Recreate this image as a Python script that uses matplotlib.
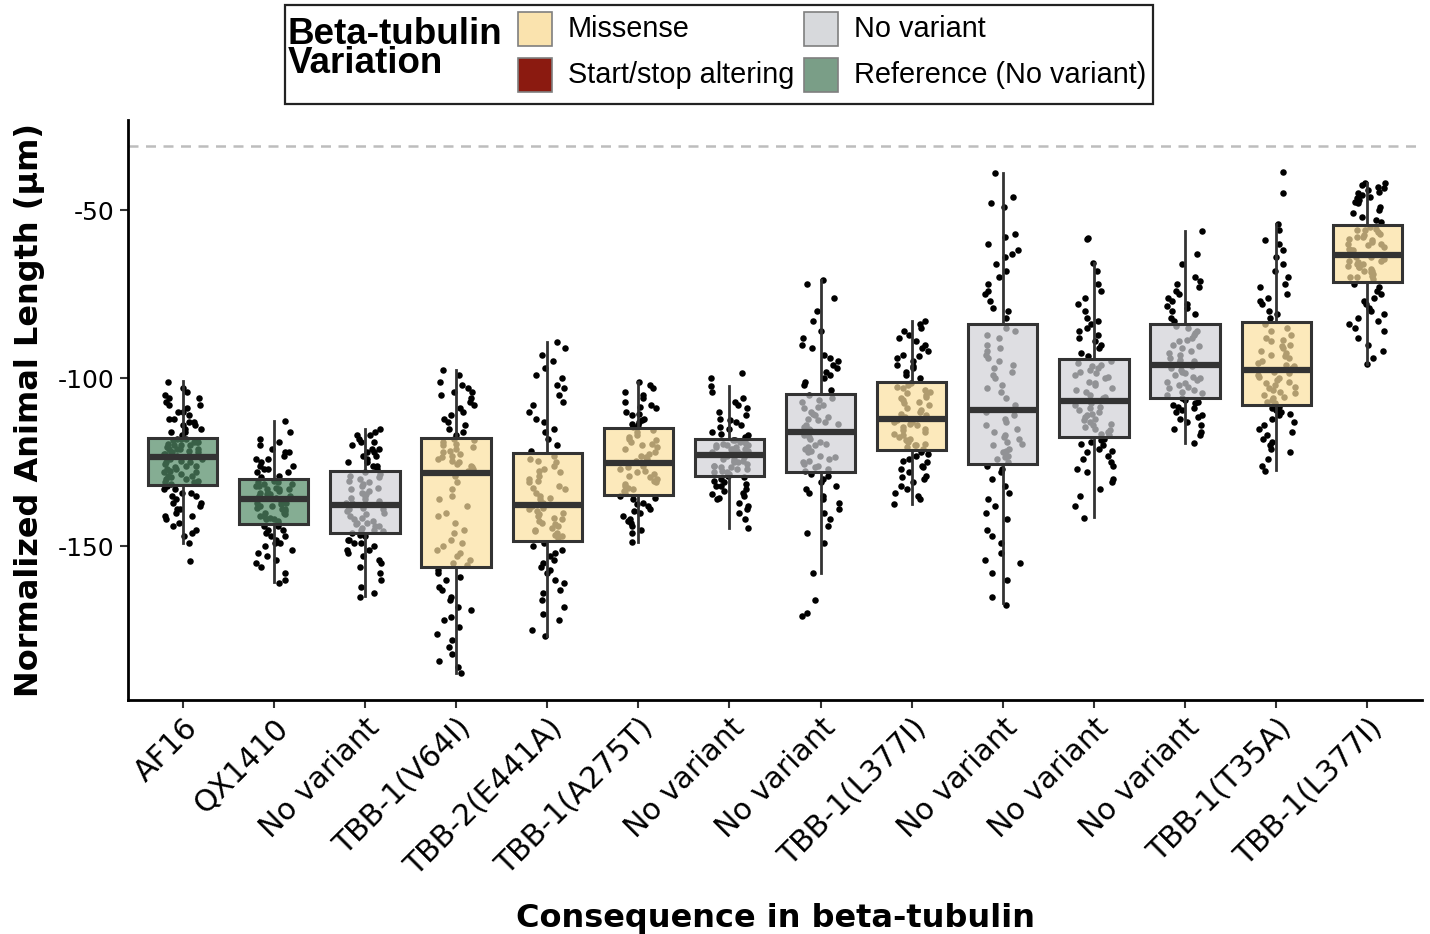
import numpy as np
import matplotlib
matplotlib.use('Agg')  # Use non-GUI backend for matplotlib
import matplotlib.pyplot as plt
from matplotlib.patches import Rectangle

plt.rcParams['axes.unicode_minus'] = False

# Strains ordered by median length, with their beta-tubulin consequence
tick_labels = ['AF16', 'QX1410', 'No variant', 'TBB-1(V64I)', 'TBB-2(E441A)',
               'TBB-1(A275T)', 'No variant', 'No variant', 'TBB-1(L377I)',
               'No variant', 'No variant', 'No variant', 'TBB-1(T35A)', 'TBB-1(L377I)']
consequence = ['Reference', 'Reference', 'No variant', 'Missense', 'Missense',
               'Missense', 'No variant', 'No variant', 'Missense',
               'No variant', 'No variant', 'No variant', 'Missense', 'Missense']

# Box summaries (lower whisker, Q1, median, Q3, upper whisker)
whisk_lo = [-149.0, -160.5, -164.8, -187.8, -176.7, -148.7, -144.5, -157.9, -137.4, -166.9, -141.4, -119.4, -127.3, -95.8]
q1 = [-131.8, -143.5, -145.9, -156.1, -148.3, -134.6, -129.2, -127.9, -121.2, -125.4, -117.5, -105.8, -108.0, -71.3]
median = [-123.4, -136.0, -137.7, -128.1, -137.6, -125.2, -122.7, -116.1, -112.1, -109.4, -106.9, -96.1, -97.5, -63.3]
q3 = [-117.8, -130.1, -127.6, -117.9, -122.3, -114.8, -118.0, -104.7, -101.0, -83.8, -94.4, -83.8, -83.4, -54.3]
whisk_hi = [-100.8, -112.6, -115.0, -97.5, -89.1, -101.0, -102.2, -70.9, -83.1, -39.0, -65.7, -56.2, -54.2, -41.8]

# Individual animal lengths per strain
af16 = [-101, -103, -104, -105, -106, -106, -107, -108, -108, -109, -110, -110, -111, -112, -112, -113,
        -113, -114, -114, -115, -115, -116, -116, -117,
        -118, -118, -118.5, -119, -119, -119.5, -120, -120, -120.5, -121, -121, -121, -121.5, -122, -122,
        -122, -122.5, -123, -123, -118, -119, -120, -121, -122.5,
        -124, -124, -124.5, -125, -125, -125.5, -126, -126, -126.5, -127, -127, -127.5, -128, -128, -128.5,
        -129, -129, -129.5, -130, -130, -130.5, -131, -131, -131.5,
        -132, -133, -133, -134, -134, -135, -135, -136, -137, -137, -138, -139, -139, -140, -141, -141,
        -142, -143, -144, -145, -146, -147, -149, -154.4]
qx1410 = [-112.6, -116, -118, -119, -120, -121, -122, -122, -123, -124, -124, -125, -126, -126, -127, -127,
          -128, -128, -129, -129.5,
          -130.5, -131, -131, -131.5, -132, -132, -132.5, -133, -133, -133.5, -134, -134, -134.5, -134.5,
          -135, -135, -135.5, -135.5, -131.5, -133,
          -136.5, -137, -137, -137.5, -138, -138, -138.5, -139, -139, -139.5, -140, -140, -140.5, -141,
          -141, -141.5, -142, -142, -142.5, -143,
          -144, -144, -145, -145, -146, -147, -147, -148, -149, -149, -150, -151, -152, -153, -154, -155,
          -156, -158, -160, -160.8]
nv_3 = [-115, -116, -117, -117, -118, -119, -119, -120, -121, -121, -122, -122, -123, -123, -124, -125,
        -125, -126, -126, -127,
        -128, -128.5, -129, -129.5, -130, -130.5, -131, -131.5, -132, -132.5, -133, -133.5, -134, -134.5,
        -135, -135.5, -136, -136.5, -137, -137,
        -138, -138.5, -139, -139.5, -140, -140.5, -141, -141.5, -142, -142.5, -143, -143, -143.5, -144,
        -144, -144.5, -145, -145, -145.5, -139,
        -146, -146.5, -147, -148, -148, -149, -149, -150, -151, -151, -152, -153, -154, -155, -156, -158,
        -160, -162, -164, -165]
v64i = [-97.5, -99, -101, -102, -103, -104, -104, -105, -106, -107, -108, -109, -110, -111, -112, -113,
        -114, -115, -116, -117,
        -118, -118.5, -119, -119.5, -120, -120.5, -121, -121.5, -122, -122.5, -123, -123.5, -124, -124.5,
        -125, -125.5, -126, -126.5, -127, -127.5,
        -129, -131, -133, -135, -136, -138, -140, -141, -143, -145, -146, -148, -149, -150, -151, -152,
        -153, -154, -155, -155.5,
        -157, -158, -159, -160, -162, -163, -165, -166, -168, -169, -171, -172, -174, -176, -178, -180,
        -182, -184, -186, -187.8]
e441a = [-89.1, -91, -93, -95, -97, -99, -100, -102, -103, -105, -107, -108, -110, -112, -113, -115,
         -116, -118, -120, -121.5,
         -123, -124, -124.5, -125, -126, -127, -127.5, -128, -129, -130, -130.5, -131, -132, -132.5, -133,
         -134, -135, -135.5, -136, -137,
         -138, -138.5, -139, -139.5, -140, -140.5, -141, -141.5, -142, -142.5, -143, -143.5, -144, -144.5,
         -145, -145.5, -146, -146.5, -147, -147.5,
         -149, -150, -151, -152, -153, -154, -155, -156, -157, -158, -160, -161, -163, -164, -166, -168,
         -170, -172, -175, -176.7]
a275t = [-101, -102, -103, -104, -105, -106, -107, -108, -108.5, -109, -110, -110.5, -111, -112, -112.5,
         -113, -113.5, -114, -114.5,
         -115.5, -116, -117, -117.5, -118, -118.5, -119, -119.5, -120, -120.5, -121, -122, -122.5, -123,
         -123.5, -124, -124.5,
         -126, -126.5, -127, -127.5, -128, -128.5, -129, -129.5, -130, -130.5, -131, -131.5, -132, -132.5,
         -133, -133.5, -134,
         -135, -135.5, -136, -137, -137.5, -138, -139, -139.5, -140, -141, -142, -142.5, -143, -144, -145,
         -146, -148.7]
nv_7 = [-98.5, -100, -102.2, -104, -106, -107, -108, -109, -110, -111, -112, -112.5, -113, -114, -114.5,
        -115, -116, -116.5, -117, -117.5,
        -118.5, -119, -119, -119.5, -120, -120, -120.5, -121, -121, -121.5, -122, -122, -118.5, -119.5,
        -120.5, -121.5, -122.5, -122.5, -120, -121,
        -123, -123.5, -124, -124, -124.5, -125, -125, -125.5, -126, -126, -126.5, -127, -127, -127.5, -128,
        -128, -128.5, -129, -124.5, -126.5,
        -129.5, -130, -130.5, -131, -131.5, -132, -132, -133, -133.5, -134, -134.5, -135, -135.5, -136,
        -137, -138, -139, -140, -142, -144.5]
nv_8 = [-70.9, -72, -76, -80, -83, -86, -88, -90, -91, -93, -94, -95, -96, -97, -98, -99, -100, -101,
        -102, -103.5,
        -105, -106, -106.5, -107, -108, -108.5, -109, -110, -110.5, -111, -111.5, -112, -112.5, -113,
        -113.5, -114, -114.5, -115, -115.5, -116,
        -117, -117.5, -118, -119, -119.5, -120, -120.5, -121, -121.5, -122, -123, -123.5, -124, -124.5,
        -125, -125.5, -126, -126.5, -127, -127.5,
        -128.5, -129, -130, -131, -132, -133, -134, -135, -136, -137, -139, -140, -142, -144, -146, -149,
        -157.9, -166, -169.7, -170.8]
l377i_9 = [-83, -84, -85, -86, -87, -88, -89, -90, -91, -92, -93, -93.5, -94, -95, -96, -96.5, -97, -98,
           -99, -100,
           -101.5, -102, -102.5, -103, -103.5, -104, -104.5, -105, -105.5, -106, -106.5, -107, -107.5, -108,
           -109, -109.5, -110, -110.5, -111, -111.5,
           -112.5, -113, -113.5, -114, -114.5, -115, -115.5, -116, -116.5, -117, -117.5, -118, -118.5, -119,
           -119.5, -120, -120, -120.5, -121, -113,
           -122, -122.5, -123, -124, -124.5, -125, -126, -126.5, -127, -128, -129, -129.5, -130, -131, -132,
           -133, -134, -135, -136, -137.4]
nv_10 = [-39, -46, -48, -49, -57, -58, -60, -62, -63, -64, -66, -68, -70, -72, -74, -75, -77, -79, -80, -82,
         -85, -86, -87, -88, -90, -91, -92, -93, -94, -95, -96, -97, -98, -99, -100, -102, -103, -104, -106,
         -108,
         -110, -111, -112, -113, -114, -115, -116, -117, -117.5, -118, -119, -119.5, -120, -121, -121.5,
         -122, -123, -123.5, -124, -125,
         -126, -127, -128, -130, -132, -134, -136, -138, -140, -142, -145, -147, -149, -152, -154, -155,
         -158, -160, -165, -167.3]
nv_11 = [-58.2, -58.5, -65.7, -68, -72, -74, -76, -78, -80, -82, -83, -84, -85, -86, -87, -88, -89, -90,
         -91, -92.5, -93.5,
         -95, -95.5, -96, -96.5, -97, -97.5, -98, -98.5, -99, -99.5, -100, -101, -101.5, -102, -103,
         -103.5, -104, -105, -105.5, -106,
         -107.5, -108, -108.5, -109, -109.5, -110, -110.5, -111, -111.5, -112, -112.5, -113, -113.5, -114,
         -114.5, -115, -115.5, -116, -116.5, -117,
         -118, -118.5, -119, -119.5, -120, -121, -121.5, -122, -123, -124, -125, -126, -127, -128, -130,
         -131, -133, -135, -138, -141.6]
nv_12 = [-56.2, -63, -66, -70, -71, -72, -73, -74, -75, -76, -77, -78, -78.5, -79, -80, -81, -82, -83,
         -84.5, -85, -86, -86.5, -87, -88, -88.5, -89, -90, -90.5, -91, -92, -92.5, -93, -94, -94.5, -95,
         -95.5,
         -96.5, -97, -97.5, -98, -98.5, -99, -99.5, -100, -100.5, -101, -101.5, -102, -102.5, -103, -103.5,
         -104, -104.5, -105,
         -106, -106.5, -107, -107.5, -108, -108.5, -109, -109.5, -110, -111, -111.5, -112, -113, -114,
         -115, -116, -117, -119.4]
t35a = [-38.8, -44.9, -54.2, -56, -59, -60, -62, -64, -66, -68, -70, -72, -73, -75, -76, -77, -78, -80,
        -81, -82,
        -84, -85, -86, -87, -88, -88.5, -89, -90, -90.5, -91, -92, -92.5, -93, -93.5, -94, -95, -95.5, -96,
        -96.5, -97,
        -98, -98.5, -99, -99.5, -100, -100.5, -101, -101.5, -102, -102.5, -103, -103.5, -104, -104.5, -105,
        -105.5, -106, -106.5, -107, -107.5,
        -108.5, -109, -109.5, -110, -110.5, -111, -112, -113, -114, -115, -116, -117, -118, -119, -120,
        -121, -122, -124, -126, -127.7]
l377i_14 = [-41.8, -42, -42.5, -43, -43.5, -44, -44.5, -45, -45.5, -46, -46.5, -47, -47.5, -48, -49, -50,
            -51, -52, -53, -53.5,
            -55, -55.5, -56, -56.5, -57, -57.5, -58, -58.5, -59, -59.5, -60, -60.5, -61, -61.5, -62, -62.5,
            -56, -58, -60, -62,
            -64, -64.5, -65, -65.5, -66, -66.5, -67, -67.5, -68, -68.5, -69, -69.5, -70, -70.5, -64, -66,
            -68, -70, -65, -67,
            -72, -73, -74, -75, -76, -77, -78, -79, -80, -81, -82, -83, -84, -85, -86, -88, -90, -92, -94,
            -95.8]
lengths = [af16, qx1410, nv_3, v64i, e441a, a275t, nv_7, nv_8, l377i_9, nv_10, nv_11, nv_12, t35a, l377i_14]

ref_line = -31

legend_colors = {'Missense': '#FAE3AE', 'Start/stop altering': '#8B1A10',
                 'No variant': '#D7D9DC', 'Reference (No variant)': '#7A9E87'}
box_fill = {'Missense': '#FCE09F', 'No variant': '#D0D1D6', 'Reference': '#528A66'}

W, H = 1430, 934
fig = plt.figure(figsize=(W / 100, H / 100), dpi=100)
ax = fig.add_axes([128 / W, 1 - 700 / H, (1422 - 128) / W, (700 - 120) / H])

positions = np.arange(1, len(tick_labels) + 1)

# horizontal jitter for the points, which sit underneath the translucent boxes
rng = np.random.default_rng(11)
for pos, vals in zip(positions, lengths):
    offs = rng.uniform(-0.21, 0.21, len(vals))
    ax.scatter(pos + offs, vals, s=22, color='black', linewidths=0, zorder=1)

stats = []
for i in range(len(tick_labels)):
    stats.append({'whislo': whisk_lo[i], 'q1': q1[i], 'med': median[i],
                  'q3': q3[i], 'whishi': whisk_hi[i], 'fliers': []})

bp = ax.bxp(stats, positions=positions, widths=0.76, patch_artist=True,
            showcaps=False, showfliers=False,
            boxprops=dict(edgecolor='#333333', linewidth=2.2),
            whiskerprops=dict(color='#333333', linewidth=2.0),
            medianprops=dict(color='#333333', linewidth=4.5, solid_capstyle='butt'))
for patch, cons in zip(bp['boxes'], consequence):
    patch.set_facecolor(matplotlib.colors.to_rgba(box_fill[cons], 0.7))
    patch.set_edgecolor('#333333')
    patch.set_zorder(2)
for ln in bp['whiskers'] + bp['medians']:
    ln.set_zorder(3)

ax.axhline(ref_line, color='#BDBDBD', linestyle=(0, (4, 3)), linewidth=1.8, zorder=0)

ax.set_xlim(0.4, 14.6)
ax.set_ylim(-195.7, -23.2)
ax.set_yticks([-50, -100, -150])
ax.set_xticks(positions)
ax.set_xticklabels(tick_labels, rotation=45, ha='right', va='top',
                   rotation_mode='anchor', fontsize=21.5)
ax.tick_params(axis='y', labelsize=18, length=6, width=1.5, color='#333333')
ax.tick_params(axis='x', length=6, width=1.5, color='#333333')
for side in ['top', 'right']:
    ax.spines[side].set_visible(False)
for side in ['left', 'bottom']:
    ax.spines[side].set_linewidth(2.0)
    ax.spines[side].set_color('black')

ax.set_xlabel('Consequence in beta-tubulin', fontsize=23, fontweight='bold')
ax.xaxis.set_label_coords(0.5, -0.35)
ax.set_ylabel('Normalized Animal Length (µm)', fontsize=23, fontweight='bold')
ax.yaxis.set_label_coords(-0.064, 0.5)


# legend drawn in pixel units of the figure
def fpx(x, y):
    return x / W, 1 - y / H


x0, y0 = fpx(285, 104)
fig.add_artist(Rectangle((x0, y0), (1153 - 285) / W, (104 - 5) / H, transform=fig.transFigure,
                         facecolor='white', edgecolor='#222222', linewidth=1.6))
fig.text(*fpx(288, 73), 'Beta-tubulin\nVariation', fontsize=26.5, fontweight='bold',
         family='Liberation Sans', va='baseline', ha='left', linespacing=0.78)
legend_items = [('Missense', 518, 12), ('Start/stop altering', 518, 58),
                ('No variant', 804, 12), ('Reference (No variant)', 804, 58)]
for label, kx, ky in legend_items:
    bx, by = fpx(kx, ky + 34)
    fig.add_artist(Rectangle((bx, by), 34 / W, 34 / H, transform=fig.transFigure,
                             facecolor=legend_colors[label], edgecolor='#7F7F7F', linewidth=1.2))
    fig.text(*fpx(kx + 50, ky + 17), label, fontsize=20.8, family='Liberation Sans',
             va='center', ha='left')

fig.savefig('out.png', dpi=100)
plt.close(fig)
